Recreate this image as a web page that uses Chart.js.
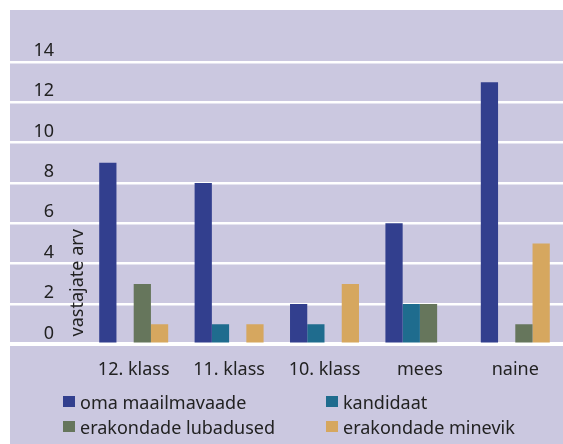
<!DOCTYPE html>
<html lang="et">
<head>
  <meta charset="UTF-8">
  <title>Vastajate arv</title>
  <script src="https://cdn.jsdelivr.net/npm/chart.js"></script>
  <style>
    body { margin: 0; background: #fff; }
    #wrap { position: relative; width: 563px; height: 444px; }
    #bg { position: absolute; left: 10px; top: 10px; right: 0; bottom: 0; background: #cbc8e0; }
    #chart { position: absolute; left: 0; top: 0; }
    #legend { position: absolute; left: 63px; top: 391px; display: grid;
      grid-template-columns: 263px 230px; row-gap: 4px;
      font-family: "Noto Sans", sans-serif; font-size: 18px; color: #222; }
    #legend div { display: flex; align-items: center; height: 21px; white-space: nowrap; }
    #legend span.box { width: 12px; height: 11px; margin-right: 5px; display: inline-block; }
  </style>
</head>
<body>
<div id="wrap">
  <div id="bg"></div>
  <canvas id="chart" width="563" height="444"></canvas>
  <div id="legend"></div>
</div>
<script>
  const categories = ['12. klass', '11. klass', '10. klass', 'mees', 'naine'];
  const seriesNames = ['oma maailmavaade', 'kandidaat', 'erakondade lubadused', 'erakondade minevik'];
  const omaMaailmavaade = [9, 8, 2, 6, 13];
  const kandidaat = [0, 1, 1, 2, 0];
  const erakondadeLubadused = [3, 0, 0, 2, 1];
  const erakondadeMinevik = [1, 1, 3, 0, 5];
  const colors = ['#323f8e', '#1f6c8e', '#66765c', '#d6a75f'];
  const yTicks = [0, 2, 4, 6, 8, 10, 12, 14];
  const yTitle = 'vastajate arv';

  const values = [omaMaailmavaade, kandidaat, erakondadeLubadused, erakondadeMinevik];
  const font = { family: '"Noto Sans", sans-serif', size: 18 };

  // axis title sits inside the plot, just right of the tick labels
  const yTitlePlugin = {
    id: 'yTitle',
    afterDraw(chart) {
      const ctx = chart.ctx;
      ctx.save();
      ctx.translate(chart.chartArea.left - 8, chart.chartArea.bottom - 8);
      ctx.rotate(-Math.PI / 2);
      ctx.font = '18px "Noto Sans", sans-serif';
      ctx.fillStyle = '#222';
      ctx.textAlign = 'left';
      ctx.textBaseline = 'middle';
      ctx.fillText(yTitle, 0, 0);
      ctx.restore();
    }
  };

  const chart = new Chart(document.getElementById('chart'), {
    type: 'bar',
    data: {
      labels: categories,
      datasets: seriesNames.map((name, i) => ({
        label: name,
        data: values[i],
        backgroundColor: colors[i],
        barPercentage: 1,
        categoryPercentage: 0.723
      }))
    },
    options: {
      responsive: false,
      animation: false,
      layout: { padding: { left: 10, top: 62, right: 0, bottom: 48 } },
      plugins: { legend: { display: false }, tooltip: { enabled: false } },
      scales: {
        x: {
          grid: { display: false, drawTicks: false },
          border: { display: false },
          ticks: { color: '#222', font: font, padding: 15 }
        },
        y: {
          min: 0,
          max: 14,
          afterBuildTicks: scale => { scale.ticks = yTicks.map(v => ({ value: v })); },
          afterFit: scale => { scale.width = 76; },
          grid: {
            color: '#ffffff',
            lineWidth: ctx => (ctx.tick && ctx.tick.value === 0 ? 4 : 2.5),
            drawTicks: true,
            tickLength: 76
          },
          border: { display: false },
          ticks: { color: '#222', font: font, padding: -44, labelOffset: -11 }
        }
      }
    },
    plugins: [yTitlePlugin]
  });

  const legend = document.getElementById('legend');
  chart.data.datasets.forEach(ds => {
    const item = document.createElement('div');
    const box = document.createElement('span');
    box.className = 'box';
    box.style.background = ds.backgroundColor;
    item.appendChild(box);
    item.appendChild(document.createTextNode(ds.label));
    legend.appendChild(item);
  });
</script>
</body>
</html>
